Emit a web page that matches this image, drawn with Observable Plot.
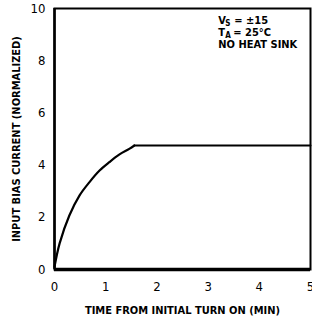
<!DOCTYPE html>
<html>
<head>
<meta charset="utf-8">
<script src="https://cdn.jsdelivr.net/npm/d3@7"></script>
<script src="https://cdn.jsdelivr.net/npm/@observablehq/plot@0.6"></script>
<style>
  html, body { margin: 0; padding: 0; background: #fff; }
  #chart svg { display: block; font-stretch: condensed; }
  #chart svg text { font-stretch: condensed; }
</style>
</head>
<body>
<div id="chart"></div>
<script>
// Time from initial turn on (min)
const timeMin = [0, 0.1, 0.29, 0.49, 0.68, 0.88, 1.07, 1.27, 1.46, 1.56, 5];
// Input bias current (normalized)
const biasCurrent = [0.1, 1.0, 2.07, 2.84, 3.34, 3.79, 4.11, 4.41, 4.62, 4.75, 4.75];
// index where the rise ends and the plateau begins
const plateauStart = 9;

const xTicks = [0, 1, 2, 3, 4, 5];
const yTicks = [0, 2, 4, 6, 8, 10];
const xTitle = "TIME FROM INITIAL TURN ON (MIN)";
const yTitle = "INPUT BIAS CURRENT (NORMALIZED)";

// Annotation pieces: text, line, pixel offset, subscript flag
const annoText = ["V", "S", "= ±15", "T", "A", "= 25°C", "NO HEAT SINK"];
const annoLine = [0, 0, 0, 1, 1, 1, 2];
const annoDx   = [0, 7, 16, 0, 7, 15, 0];
const annoSub  = [false, true, false, false, true, false, false];
const annoX = 3.2;
const annoY = [9.54, 9.08, 8.62];

const pts = timeMin.map((t, i) => ({t, v: biasCurrent[i], i}));
const rise = pts.filter(d => d.i <= plateauStart);
const flat = pts.filter(d => d.i >= plateauStart);

const font = "'Liberation Sans Narrow', 'DejaVu Sans', sans-serif";

const annoMarks = annoText.map((s, i) => Plot.text([{s, x: annoX, y: annoY[annoLine[i]]}], {
  x: "x", y: "y", text: "s", dx: annoDx[i], dy: annoSub[i] ? 3 : 0,
  textAnchor: "start", fontSize: annoSub[i] ? 8 : 11, fontWeight: "bold", fill: "#000"
}));

const chart = Plot.plot({
  width: 312,
  height: 320,
  marginLeft: 54,
  marginRight: 2,
  marginTop: 8,
  marginBottom: 51,
  style: {fontFamily: font, fontSize: "13px", color: "#000", background: "#fff"},
  x: {domain: [0, 5], ticks: xTicks, tickFormat: "d", tickSize: 0, tickPadding: 12, label: xTitle, labelAnchor: "center", labelOffset: 44, labelArrow: "none"},
  y: {domain: [0, 10], ticks: yTicks, tickFormat: "d", tickSize: 0, tickPadding: 9, label: yTitle, labelAnchor: "center", labelOffset: 42, labelArrow: "none"},
  marks: [
    Plot.frame({stroke: "#000", strokeWidth: 2}),
    Plot.ruleY([0], {stroke: "#000", strokeWidth: 3.5}),
    Plot.ruleX([0], {stroke: "#000", strokeWidth: 2.5}),
    Plot.line(rise, {x: "t", y: "v", stroke: "#000", strokeWidth: 2.2, curve: "catmull-rom"}),
    Plot.line(flat, {x: "t", y: "v", stroke: "#000", strokeWidth: 2}),
    ...annoMarks
  ]
});
document.getElementById("chart").appendChild(chart);
// make axis titles bold like the reference
chart.querySelectorAll("g[aria-label='x-axis label'] text, g[aria-label='y-axis label'] text").forEach(t => {
  t.setAttribute("font-weight", "bold");
  t.setAttribute("font-size", "11");
});
</script>
</body>
</html>
